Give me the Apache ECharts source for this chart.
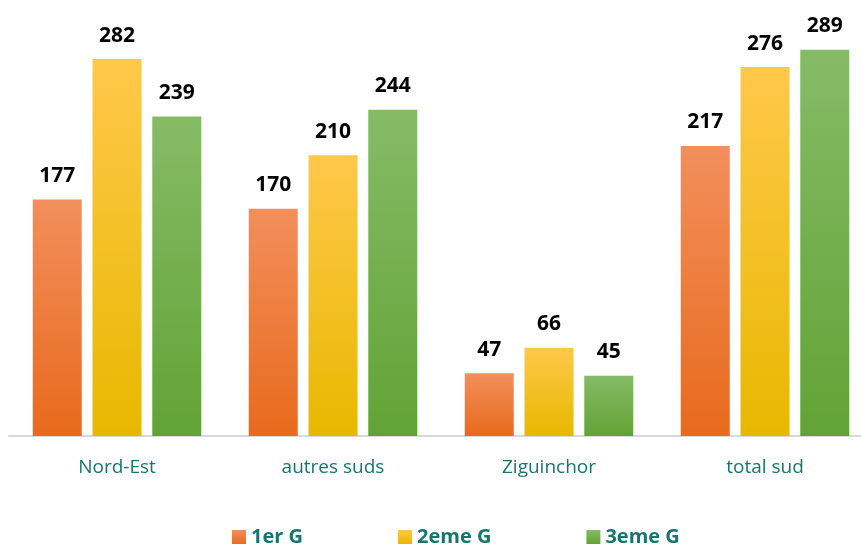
<!DOCTYPE html>
<html lang="fr">
  <head>
    <meta charset="UTF-8" />
    <title>Groupes par zone</title>
    <script src="https://cdn.jsdelivr.net/npm/echarts@6.0.0/dist/echarts.min.js"></script>
    <style>
      html, body { margin: 0; padding: 0; background: #fff; }
    </style>
  </head>
  <body>
    <div id="main" style="width: 861px; height: 544px"></div>

    <script type="text/javascript">
      // data
      const categories = ["Nord-Est", "autres suds", "Ziguinchor", "total sud"];
      const seriesNames = ["1er G", "2eme G", "3eme G"];
      const premierG = [177, 170, 47, 217];
      const deuxiemeG = [282, 210, 66, 276];
      const troisiemeG = [239, 244, 45, 289];

      // top / bottom colours of each bar gradient
      const gradients = [
        ["#F28F5C", "#E86A1C"],
        ["#FFC84A", "#E8B800"],
        ["#86BB66", "#62A335"],
      ];

      function grad(c) {
        return new echarts.graphic.LinearGradient(0, 0, 0, 1, [
          { offset: 0, color: c[0] },
          { offset: 1, color: c[1] },
        ]);
      }

      const values = [premierG, deuxiemeG, troisiemeG];

      let myChart = echarts.init(document.getElementById("main"));

      let options = {
        animation: false,
        grid: {
          left: 9,
          width: 864,
          top: 35,
          height: 401,
          containLabel: false,
          outerBoundsMode: "none",
        },
        legend: {
          top: 522,
          left: 227,
          itemGap: 95,
          itemWidth: 14,
          itemHeight: 14,
          icon: "rect",
          textStyle: {
            color: "#16766E",
            fontSize: 20,
            fontWeight: "bold",
            fontFamily: "Open Sans",
          },
          data: seriesNames,
        },
        xAxis: {
          type: "category",
          data: categories,
          axisTick: { show: false },
          axisLine: { lineStyle: { color: "#D9D9D9", width: 2 } },
          axisLabel: {
            color: "#16766E",
            fontSize: 19,
            fontFamily: "Open Sans",
            margin: 22,
          },
        },
        yAxis: {
          type: "value",
          min: 0,
          max: 300,
          show: false,
          splitLine: { show: false },
        },
        series: seriesNames.map((name, i) => ({
          name: name,
          type: "bar",
          data: values[i],
          barWidth: 49,
          barGap: "22%",
          itemStyle: { color: grad(gradients[i]) },
          label: {
            show: true,
            position: "top",
            distance: 13,
            color: "#000",
            fontSize: 21,
            fontWeight: "bold",
            fontFamily: "Open Sans",
          },
        })),
      };

      myChart.setOption(options);
    </script>
  </body>
</html>
